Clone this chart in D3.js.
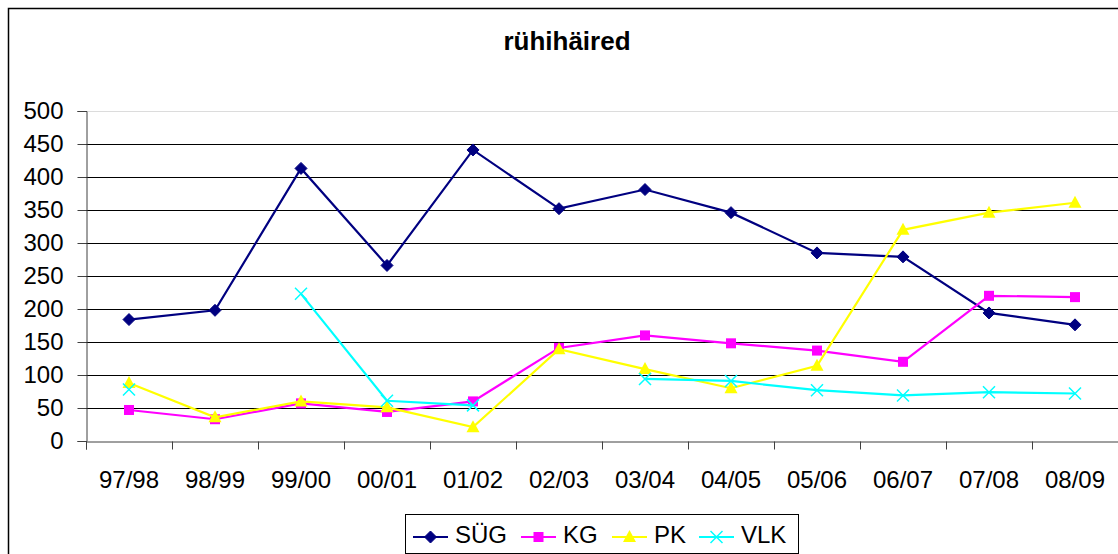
<!DOCTYPE html>
<html>
<head>
<meta charset="utf-8">
<script src="https://cdn.jsdelivr.net/npm/d3@7"></script>
<style>
  body { margin: 0; background: #fff; }
  svg { display: block; font-family: "Liberation Sans", Arial, sans-serif; }
</style>
</head>
<body>
<svg id="chart" width="1118" height="554"></svg>
<script>
// data
let seasons = ['97/98', '98/99', '99/00', '00/01', '01/02', '02/03', '03/04', '04/05', '05/06', '06/07', '07/08', '08/09']
let sug = [184, 198, 413, 266, 441, 352, 381, 346, 285, 279, 194, 176]
let kg  = [47, 33, 57, 44, 60, 141, 160, 148, 137, 120, 220, 218]
let pk  = [88, 36, 60, 51, 21, 139, 109, 80, 114, 320, 346, 361]
let vlk = [78, null, 223, 61, 54, null, 94, 91, 77, 69, 74, 72]
let yTicks = [0, 50, 100, 150, 200, 250, 300, 350, 400, 450, 500]

let series = [
  { name: 'SÜG', values: sug, color: '#000080', marker: 'diamond' },
  { name: 'KG',  values: kg,  color: '#ff00ff', marker: 'square' },
  { name: 'PK',  values: pk,  color: '#ffff00', marker: 'triangle' },
  { name: 'VLK', values: vlk, color: '#00ffff', marker: 'cross' }
]

let svg = d3.select('#chart')

let plotLeft = 86, plotRight = 1118, plotTop = 111, plotBottom = 441

let x = d3.scaleBand().domain(seasons).range([plotLeft, plotRight]).padding(0)
let xEdge = d3.scaleLinear().domain([0, seasons.length]).range([plotLeft, plotRight])
let y = d3.scaleLinear().domain([0, 500]).range([plotBottom, plotTop])

// outer chart border
svg.append('rect')
   .attr('x', 8.5).attr('y', 8.5)
   .attr('width', 1300).attr('height', 700)
   .attr('fill', 'none').attr('stroke', '#000').attr('stroke-width', 1.5)

// title
svg.append('text')
   .attr('x', 567).attr('y', 50)
   .attr('text-anchor', 'middle')
   .style('font-size', '26px').style('font-weight', 'bold')
   .text('rühihäired')

// gridlines
svg.append('g')
   .selectAll('line')
   .data(yTicks.filter(d => d > 0))
   .enter()
   .append('line')
   .attr('x1', plotLeft).attr('x2', plotRight)
   .attr('y1', d => Math.round(y(d)) + 0.5).attr('y2', d => Math.round(y(d)) + 0.5)
   .attr('stroke', d => d === 500 ? '#dcdcdc' : '#000')
   .attr('stroke-width', 1)

// y axis
let yAxis = svg.append('g')
   .attr('transform', 'translate(' + (plotLeft + 0.5) + ',0)')
   .call(d3.axisLeft(y).tickValues(yTicks).tickSize(9).tickPadding(14))
yAxis.select('.domain').attr('stroke', '#404040')
yAxis.selectAll('.tick line').attr('stroke', '#404040')
yAxis.selectAll('text').style('font-size', '24px').attr('fill', '#000')
yAxis.attr('font-family', null)

// x axis: ticks at the category edges, labels at the centres
let xTickAxis = svg.append('g')
   .attr('transform', 'translate(0,' + (plotBottom + 0.5) + ')')
   .call(d3.axisBottom(xEdge).tickValues(d3.range(seasons.length + 1)).tickSize(8).tickFormat(''))
xTickAxis.select('.domain').attr('stroke', '#404040')
xTickAxis.selectAll('.tick line').attr('stroke', '#404040')

let xLabelAxis = svg.append('g')
   .attr('transform', 'translate(0,' + plotBottom + ')')
   .call(d3.axisBottom(x).tickSize(0).tickPadding(30))
xLabelAxis.select('.domain').remove()
xLabelAxis.selectAll('text').style('font-size', '24px').attr('fill', '#000')
xLabelAxis.attr('font-family', null)

// marker drawing
let drawMarker = (g, kind, color) => {
  if (kind === 'diamond') {
    g.append('path').attr('d', 'M0,-6L6,0L0,6L-6,0Z').attr('fill', color).attr('stroke', color)
  } else if (kind === 'square') {
    g.append('rect').attr('x', -5).attr('y', -5).attr('width', 10).attr('height', 10).attr('fill', color)
  } else if (kind === 'triangle') {
    g.append('path').attr('d', 'M0,-7L6.5,5L-6.5,5Z').attr('fill', color)
  } else {
    g.append('path').attr('d', 'M-6,-6L6,6M-6,6L6,-6').attr('stroke', color).attr('stroke-width', 1.5).attr('fill', 'none')
  }
}

let line = d3.line()
   .defined(d => d.v !== null)
   .x(d => x(d.s) + x.bandwidth() / 2)
   .y(d => y(d.v))

series.forEach((ser) => {
  let pts = seasons.map((s, i) => ({ s: s, v: ser.values[i] }))
  let g = svg.append('g')
  g.append('path')
   .datum(pts)
   .attr('d', line)
   .attr('fill', 'none')
   .attr('stroke', ser.color)
   .attr('stroke-width', 2.2)
  pts.filter(d => d.v !== null).forEach((d) => {
    let m = g.append('g')
      .attr('transform', 'translate(' + (x(d.s) + x.bandwidth() / 2) + ',' + y(d.v) + ')')
    drawMarker(m, ser.marker, ser.color)
  })
})

// legend
let legend = svg.append('g')
legend.append('rect')
   .attr('x', 405.5).attr('y', 514.5)
   .attr('width', 393).attr('height', 39)
   .attr('fill', '#fff').attr('stroke', '#000').attr('stroke-width', 1)

let legendX = [413, 521, 612, 699]
series.forEach((ser, i) => {
  let lx = legendX[i]
  legend.append('line')
     .attr('x1', lx).attr('x2', lx + 35)
     .attr('y1', 537).attr('y2', 537)
     .attr('stroke', ser.color).attr('stroke-width', 2.2)
  let m = legend.append('g').attr('transform', 'translate(' + (lx + 17.5) + ',537)')
  drawMarker(m, ser.marker, ser.color)
  legend.append('text')
     .attr('x', lx + 42).attr('y', 543)
     .style('font-size', '24px')
     .text(ser.name)
})
</script>
</body>
</html>
